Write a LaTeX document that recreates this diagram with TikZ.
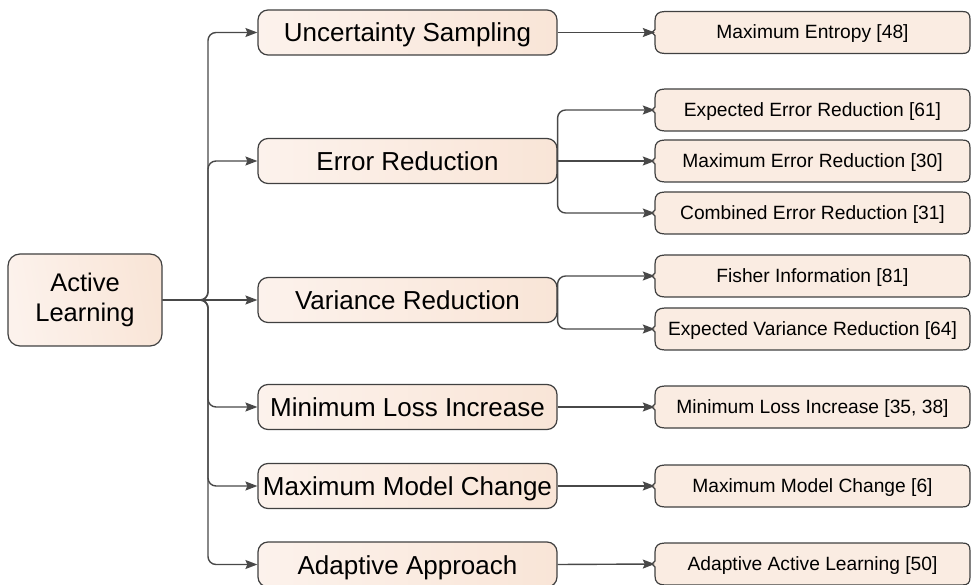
\documentclass[tikz,border=0pt]{standalone}
\usepackage{fontspec}
\setmainfont{Liberation Sans}
\usetikzlibrary{arrows.meta}
\definecolor{boxfill}{RGB}{250,236,226}
\definecolor{boxlight}{RGB}{252,242,236}
\definecolor{boxdark}{RGB}{249,229,215}
\definecolor{boxline}{RGB}{64,64,64}
\definecolor{connline}{RGB}{72,72,72}
\tikzset{
  rootbox/.style={draw=boxline, line width=1.2pt, left color=boxlight, right color=boxdark,
    shading angle=100, rounded corners=12pt,
    minimum width=154pt, minimum height=92pt, inner sep=0pt, align=center,
    font=\fontsize{25.5}{30}\selectfont},
  midbox/.style={draw=boxline, line width=1.2pt, left color=boxlight, right color=boxdark,
    rounded corners=10pt,
    minimum width=299pt, minimum height=45pt, inner sep=0pt,
    text height=19pt, text depth=0pt,
    font=\fontsize{26}{30}\selectfont},
  leaftext/.style={minimum width=315pt, minimum height=42pt, inner sep=0pt,
    text height=13pt, text depth=0pt,
    font=\fontsize{19.2}{22}\selectfont},
  leafshape/.style={draw=boxline, line width=1.2pt, fill=boxfill},
  conn/.style={draw=connline, line width=1.4pt, rounded corners=8pt,
    -{Stealth[length=12pt,width=9pt,inset=2pt]}},
}
\newcommand{\leafoutline}[1]{%
  \path[leafshape] (665,#1-21) -- (962,#1-21) .. controls (968,#1-21) and (970,#1-19) .. (970,#1-13)
    -- (970,#1+13) .. controls (970,#1+19) and (968,#1+21) .. (962,#1+21)
    -- (665,#1+21) .. controls (658,#1+21) and (655,#1+18) .. (655,#1+12)
    -- (655,#1+3) -- (652,#1) -- (655,#1-3) -- (655,#1-12)
    .. controls (655,#1-18) and (658,#1-21) .. (665,#1-21) -- cycle;}
\begin{document}
\begin{tikzpicture}[x=1pt,y=-1pt]
\useasboundingbox (0,0) rectangle (972,585);
% root
\node[rootbox] (root) at (85,300) {Active\\Learning};
% middle nodes
\node[midbox] (m1) at (407.5,32.5) {Uncertainty Sampling};
\node[midbox] (m2) at (407.5,161) {Error Reduction};
\node[midbox] (m3) at (407.5,300) {Variance Reduction};
\node[midbox] (m4) at (407.5,407) {Minimum Loss Increase};
\node[midbox] (m5) at (407.5,486) {Maximum Model Change};
\node[midbox] (m6) at (407.5,564.5) {Adaptive Approach};
% leaves
\leafoutline{32.5}
\node[leaftext] (l1) at (812.5,32.5) {Maximum Entropy [48]};
\leafoutline{110}
\node[leaftext] (l2) at (812.5,110) {Expected Error Reduction [61]};
\leafoutline{161}
\node[leaftext] (l3) at (812.5,161) {Maximum Error Reduction [30]};
\leafoutline{213}
\node[leaftext] (l4) at (812.5,213) {Combined Error Reduction [31]};
\leafoutline{276}
\node[leaftext] (l5) at (812.5,276) {Fisher Information [81]};
\leafoutline{329}
\node[leaftext] (l6) at (812.5,329) {Expected Variance Reduction [64]};
\leafoutline{407}
\node[leaftext] (l7) at (812.5,407) {Minimum Loss Increase [35, 38]};
\leafoutline{486}
\node[leaftext] (l8) at (812.5,486) {Maximum Model Change [6]};
\leafoutline{564}
\node[leaftext] (l9) at (812.5,564) {Adaptive Active Learning [50]};
% trunk junction
\coordinate (j) at (208,300);
\draw[conn] (root.east) -- (j) |- (m1.west);
\draw[conn] (root.east) -- (j) |- (m2.west);
\draw[conn] (root.east) -- (m3.west);
\draw[conn] (root.east) -- (j) |- (m4.west);
\draw[conn] (root.east) -- (j) |- (m5.west);
\draw[conn] (root.east) -- (j) |- (m6.west);
% middle to leaves
\draw[conn] (m1.east) -- (l1.west);
\draw[conn] (m2.east) |- (l2.west);
\draw[conn] (m2.east) -- (l3.west);
\draw[conn] (m2.east) |- (l4.west);
\draw[conn] (m3.east) |- (l5.west);
\draw[conn] (m3.east) |- (l6.west);
\draw[conn] (m4.east) -- (l7.west);
\draw[conn] (m5.east) -- (l8.west);
\draw[conn] (m6.east) -- (l9.west);
\end{tikzpicture}
\end{document}
